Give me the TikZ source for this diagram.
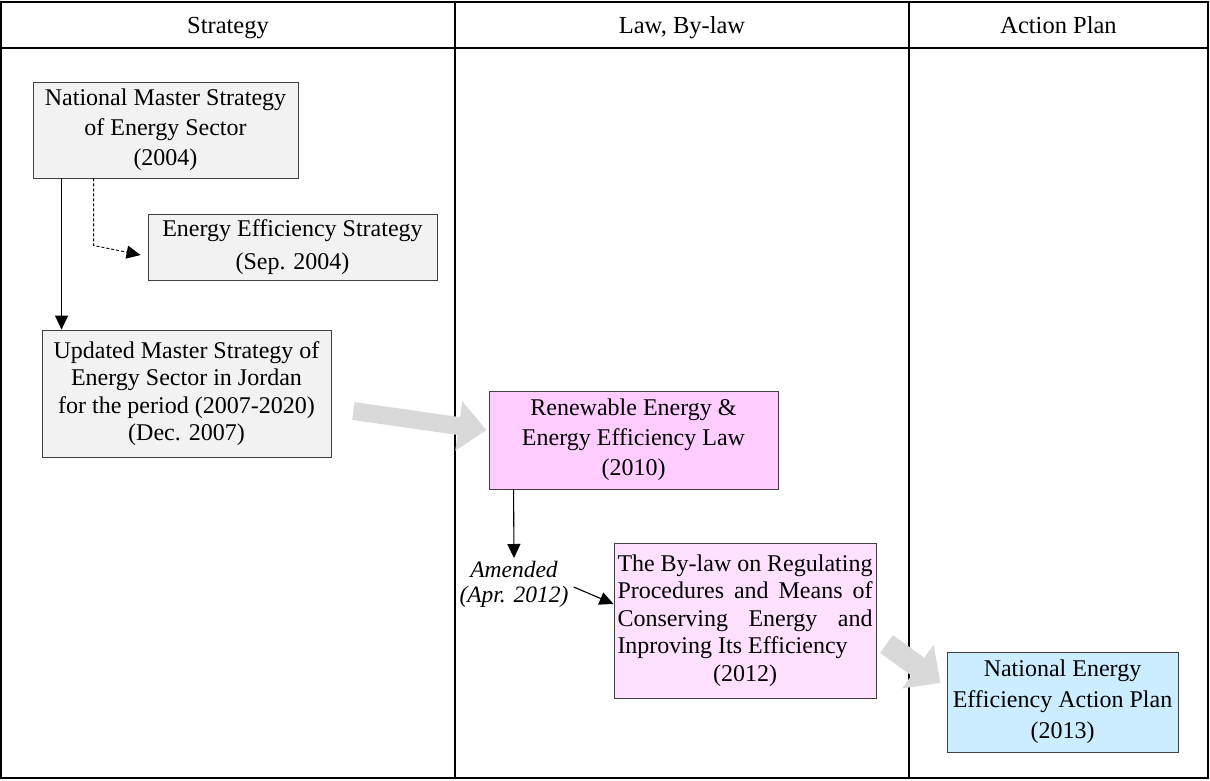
\documentclass[tikz,border=0pt]{standalone}
\usepackage{fontspec}
\setmainfont{Liberation Serif}
\usetikzlibrary{arrows.meta}

\definecolor{boxgray}{HTML}{F2F2F2}
\definecolor{lawpink}{HTML}{FFCCFF}
\definecolor{bylawpink}{HTML}{FFE1FF}
\definecolor{planblue}{HTML}{CCECFF}
\definecolor{flowgray}{HTML}{D9D9D9}
\definecolor{edgegray}{HTML}{404040}

\tikzset{
  docbox/.style={draw=edgegray, line width=0.9pt, inner sep=0pt, align=center,
                 font=\fontsize{24}{30}\selectfont},
  headtext/.style={font=\fontsize{24.5}{28}\selectfont, inner sep=0pt, anchor=base},
  flow/.style={line width=1.1pt, -{Triangle[length=14pt,width=13pt]}},
  dashflow/.style={line width=0.9pt, dash pattern=on 3pt off 2pt,
                   -{Triangle[length=14pt,width=13pt]}},
  bigflow/.style={draw=flowgray, color=flowgray}
}

\begin{document}
\begin{tikzpicture}[x=1pt, y=-1pt]
  \useasboundingbox (0,0) rectangle (1210,780);

  % table frame, header rule and column rules
  \draw[line width=1.8pt] (1,2) rectangle (1208,778);
  \draw[line width=2.6pt] (1,48) -- (1208,48);
  \draw[line width=2pt] (455,2) -- (455,778);
  \draw[line width=2pt] (909,2) -- (909,778);

  % column headings, on a common baseline
  \node[headtext] (hstrat) at (228,33) {Strategy};
  \node[headtext] (hlaw)   at (682,33) {Law, By-law};
  \node[headtext] (hplan)  at (1058.5,33) {Action Plan};

  % strategy documents
  \node[docbox, fill=boxgray, minimum width=265pt, minimum height=96pt] (nms) at (165.5,130)
    {National Master Strategy\\of Energy Sector\\(2004)};
  \node[docbox, fill=boxgray, minimum width=289pt, minimum height=66pt,
        font=\fontsize{24}{33}\selectfont] (ees) at (292.5,247)
    {Energy Efficiency Strategy\\(Sep. 2004)};
  \node[docbox, fill=boxgray, minimum width=289pt, minimum height=127pt,
        font=\fontsize{24}{27.5}\selectfont] (ums) at (186.5,393.5)
    {Updated Master Strategy of\\Energy Sector in Jordan\\for the period (2007-2020)\\(Dec. 2007)};

  % law and by-law
  \node[docbox, fill=lawpink, minimum width=289pt, minimum height=98pt] (law) at (633.5,440)
    {Renewable Energy \&\\Energy Efficiency Law\\(2010)};
  \node[docbox, fill=bylawpink, minimum width=262pt, minimum height=155pt, align=left,
        font=\fontsize{24}{27.5}\selectfont] (bylaw) at (745,620.5)
    {\makebox[255pt][s]{The By-law on Regulating}\\
     \makebox[255pt][s]{Procedures and Means of}\\
     \makebox[255pt][s]{Conserving Energy and}\\
     Inproving Its Efficiency\\
     \makebox[255pt]{(2012)}};

  % action plan
  \node[docbox, fill=planblue, minimum width=231pt, minimum height=100pt,
        font=\fontsize{24}{31}\selectfont] (plan) at (1062.5,702)
    {National Energy\\Efficiency Action Plan\\(2013)};

  % amendment note
  \node[font=\fontsize{23.5}{25}\selectfont\itshape, align=center, inner sep=1pt] (amend) at (514,584)
    {Amended\\(Apr. 2012)};
  \coordinate (amendtop) at (514,558);

  % thin connectors
  \draw[flow] ([xshift=29pt]nms.south west) -- ([xshift=20pt]ums.north west);
  \draw[dashflow] ([xshift=61pt]nms.south west) -- ++(0,67) -- ([xshift=-7pt,yshift=-8pt]ees.west);
  \draw[flow] ([xshift=25pt]law.south west) -- (amendtop);
  \draw[flow] ([xshift=4pt,yshift=-3pt]amend.east) -- ([yshift=16.5pt]bylaw.west);

  % broad grey transfer arrows
  \draw[bigflow, line width=18pt, -{Triangle[length=28pt,width=48pt]}]
    ([xshift=22pt,yshift=-17.5pt]ums.east) -- ([xshift=-2pt,yshift=10pt]law.west);
  \draw[bigflow, line width=22pt, -{Triangle[length=28pt,width=52pt]}]
    ([xshift=10pt,yshift=-23.5pt]bylaw.east) -- ([xshift=-6pt,yshift=19pt]plan.west);
\end{tikzpicture}
\end{document}
